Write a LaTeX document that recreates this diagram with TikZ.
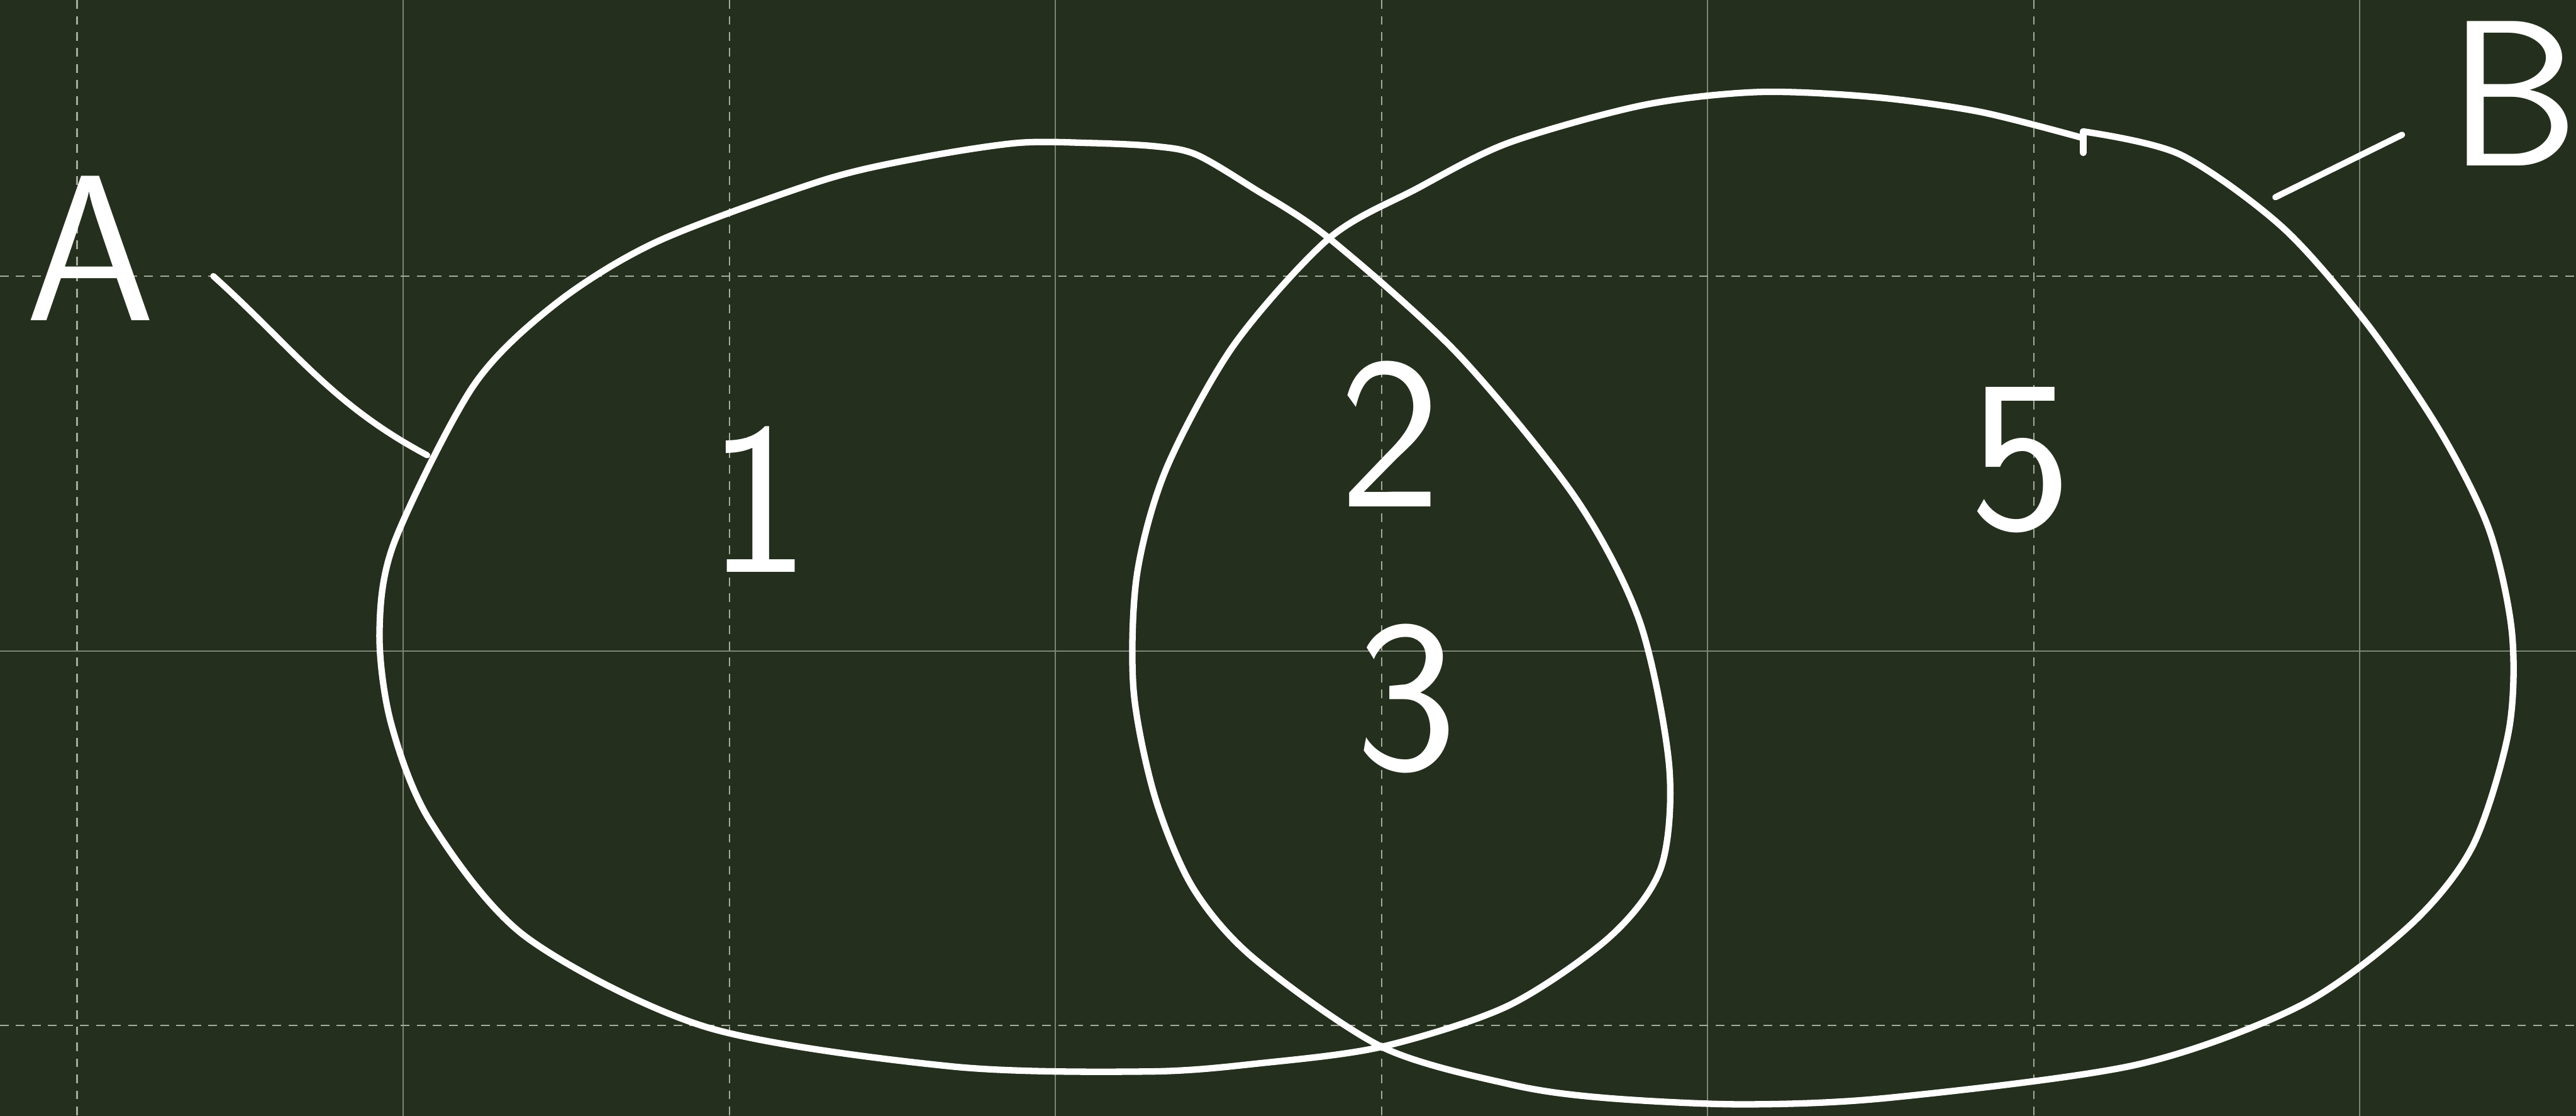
\documentclass[tikz,border=0pt]{standalone}
\usepackage{fontspec}
\usepackage{tikz}
\usetikzlibrary{calc}
\definecolor{boardgreen}{RGB}{36,47,29}
\definecolor{gridsolid}{RGB}{125,134,118}
\definecolor{griddash}{RGB}{165,172,158}
\definecolor{chalk}{RGB}{255,255,255}

\begin{document}
\begin{tikzpicture}[
    x=0.2664mm, y=-0.2664mm,
    setline/.style={draw=chalk, line width=1.05mm, line cap=round, line join=round},
    lead/.style={draw=chalk, line width=1.0mm, line cap=round},
    gridmajor/.style={draw=gridsolid, line width=0.22mm},
    gridminor/.style={draw=griddash, line width=0.22mm, dash pattern=on 1.4mm off 1.2mm},
    setname/.style={text=chalk, inner sep=0pt, font=\fontsize{96}{96}\selectfont\sffamily},
    region/.style={text=chalk, inner sep=0pt, font=\fontsize{100}{100}\selectfont\sffamily}
]
% Board and grid
\fill[boardgreen] (0,0) rectangle (1568,679);
\useasboundingbox (0,0) rectangle (1568,679);
\foreach \gx in {46.9,443.9,840.9,1237.9}
  \draw[gridminor] (\gx,0) -- (\gx,679);
\foreach \gx in {245.4,642.4,1039.4,1436.4}
  \draw[gridmajor] (\gx,0) -- (\gx,679);
\foreach \gy in {168.2,624}
  \draw[gridminor] (0,\gy) -- (1568,\gy);
\draw[gridmajor] (0,396.2) -- (1568,396.2);

% Set A
\draw[setline] plot[smooth cycle, tension=0.5] coordinates {
  (728,94) (762,114) (809,145) (887,215) (959,303) (998,378) (1016,466)
  (1011,528) (980,570) (918,612) (841,637) (767,647) (700,652) (580,649)
  (430,625) (320,570) (262,500) (238,440) (231,385) (240,330) (288,235)
  (338,185) (400,147) (500,110) (560,96) (619,87) (663,87) (703,89)};

% Set B
\draw[setline] plot[smooth, tension=0.5] coordinates {
  (1268,80) (1327,94) (1389,138) (1440,196) (1485,262) (1515,322)
  (1529,385) (1527,445) (1505,515) (1467,563) (1400,612) (1300,648)
  (1150,668) (1060,672) (976,668) (920,660) (841,637) (763,583) (726,540)
  (703,485) (690,420) (692,350) (710,285) (751,210) (809,145) (862,115)
  (918,87) (1000,64) (1070,56) (1140,59) (1205,68) (1268,84)};
\draw[setline] (1268,80) -- (1268,93);

% Set names and leaders
\node[setname] (lblA) at (55,151) {A};
\node[setname] (lblB) at (1530,57) {B};
\coordinate (footA) at (260,277);
\coordinate (footB) at (1385,120);
\draw[lead] (lblA.east) ++(35,17) to[out=-42,in=152] (footA);
\draw[lead] (lblB.west) ++(-28,25) -- (footB);

% Regions
\node[region] (reg1) at (462,304) {1};
\node[region] (reg2) at (846,264) {2};
\node[region] (reg3) at (856,425) {3};
\node[region] (reg5) at (1230,280) {5};
\end{tikzpicture}
\end{document}
